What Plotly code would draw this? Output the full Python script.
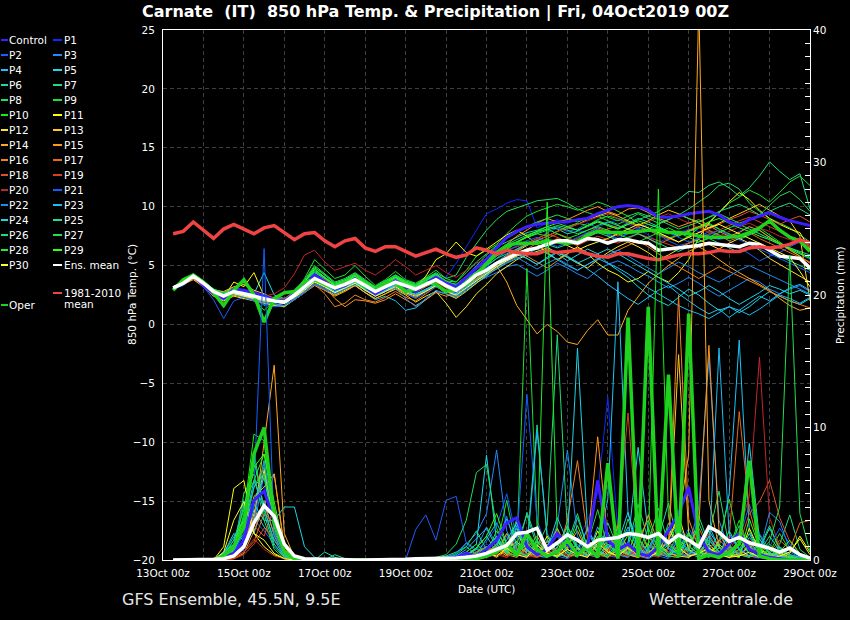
import pandas as pd
import plotly.graph_objects as go

# 6-hourly steps, 13Oct 06z .. 29Oct 00z
times = pd.date_range("2019-10-13 06:00", periods=64, freq="6h")

names = ["Control"] + ["P%d" % i for i in range(1, 31)]

# ---- 850 hPa temperature (deg C) per member ----
t_ctrl = [3.0,3.6,4.2,3.3, 2.6,2.2,3.0,2.9, 2.7,2.4,2.1,2.0, 2.6,3.4,4.2,3.6,
          3.0,3.3,3.9,3.2, 2.6,3.1,3.7,3.2, 2.8,3.5,4.0,3.5, 3.2,4.0,4.8,5.5,
          6.5,7.4,7.9,8.3, 8.5,8.6,8.7,8.7, 8.9,9.0,9.4,9.7, 10.0,10.1,10.0,9.7,
          9.1,9.1,9.2,9.4, 9.5,9.6,9.3,8.7, 8.4,8.9,9.2,9.5, 9.1,8.8,8.6,8.4]
t_p1 = [3.2,3.4,4.0,3.6, 2.9,2.6,2.5,2.3, 2.0,1.8,2.2,2.1, 2.3,3.0,3.7,3.3,
        2.9,3.1,3.6,3.0, 2.5,2.9,3.4,3.0, 2.9,3.6,4.3,4.0, 5.2,6.6,8.0,9.4,
        9.8,10.3,10.6,10.5, 8.2,8.6,8.9,8.4, 8.0,7.7,8.3,8.6, 8.9,8.5,8.1,7.6,
        7.0,7.3,7.8,8.1, 7.9,7.5,7.2,7.4, 7.9,8.3,7.7,7.2, 6.8,6.4,6.0,5.5]
t_p2 = [3.0,3.3,3.9,3.2, 2.1,0.5,2.0,2.3, 2.2,2.0,1.7,1.5, 2.2,2.9,3.6,3.3,
        2.8,3.0,3.5,3.0, 2.4,2.8,3.2,2.6, 2.2,2.9,3.6,3.4, 3.0,3.6,4.5,5.2,
        5.8,6.3,6.6,6.9, 7.2,7.8,8.2,7.9, 8.1,8.6,8.2,7.6, 7.2,7.8,8.3,8.0,
        7.6,7.1,6.7,6.9, 7.4,7.9,7.6,7.1, 6.5,6.0,5.4,5.8, 6.1,6.6,7.0,6.4]
t_p3 = [3.1,3.6,4.1,3.4, 2.6,2.1,2.6,2.4, 2.1,1.9,1.8,1.6, 2.2,2.9,3.8,3.3,
        2.8,3.2,3.7,3.1, 2.5,2.9,3.3,2.9, 2.5,3.0,3.4,2.9, 2.4,3.0,3.6,4.0,
        4.4,4.9,5.1,4.6, 4.1,4.6,5.2,4.8, 4.3,3.9,4.6,5.1, 5.4,5.0,4.5,4.1,
        3.6,3.1,3.5,4.0, 3.5,2.9,2.4,2.9, 3.4,3.9,3.6,3.0, 2.6,3.0,3.3,2.8]
t_p4 = [3.0,3.5,4.0,3.4, 2.5,2.0,2.5,2.4, 2.3,2.1,2.0,1.8, 2.4,3.0,3.7,3.2,
        2.7,3.0,3.4,2.7, 2.1,2.4,2.0,1.2, 1.4,2.1,2.8,2.6, 2.3,2.9,3.5,4.1,
        4.8,5.4,6.0,5.6, 5.1,5.7,6.2,5.8, 5.3,4.7,4.1,3.4, 2.8,2.2,1.7,2.3,
        2.9,3.3,2.6,2.0, 1.4,0.9,1.3,0.6, 1.2,1.8,2.4,2.0, 2.6,3.1,3.4,2.9]
t_p5 = [3.1,3.5,4.2,3.6, 2.9,2.5,2.7,2.4, 2.6,4.4,2.5,2.2, 2.6,3.3,3.9,3.4,
        2.9,3.3,3.7,3.1, 2.6,3.0,3.5,3.2, 2.8,3.3,3.7,3.1, 2.7,3.4,4.1,4.8,
        5.3,5.9,6.3,6.8, 7.1,6.6,6.0,5.4, 5.9,6.4,6.0,5.2, 4.6,4.0,3.2,2.5,
        2.0,1.6,2.3,3.0, 2.5,1.8,1.2,1.5, 1.0,1.5,2.2,2.8, 2.4,2.0,1.7,2.2]
t_p6 = [3.2,3.6,4.3,3.7, 3.0,2.7,3.1,2.9, 2.6,2.3,2.1,2.0, 2.7,3.5,4.4,3.9,
        3.3,3.6,4.0,3.4, 2.9,3.4,3.9,3.5, 3.1,3.6,4.0,3.5, 3.2,4.0,5.0,5.9,
        6.6,7.0,7.4,7.8, 8.0,8.3,8.1,7.7, 7.9,8.4,8.8,8.5, 8.2,8.6,9.0,8.7,
        8.3,7.9,7.6,7.9, 8.2,8.5,8.1,7.6, 7.2,7.6,8.0,7.4, 6.9,6.5,6.2,5.9]
t_p7 = [3.1,3.6,4.2,3.5, 2.7,2.3,2.9,2.8, 2.5,1.6,2.2,2.1, 2.8,3.6,4.5,4.0,
        3.4,3.7,4.2,3.6, 3.0,3.5,4.0,3.6, 3.3,3.8,4.3,3.7, 3.3,4.1,4.9,5.5,
        6.2,6.8,7.2,7.6, 7.9,8.1,8.4,8.2, 8.0,8.3,8.7,8.4, 8.1,8.5,8.9,9.2,
        9.6,10.1,10.6,11.3, 11.2,11.8,12.1,11.6, 10.9,11.6,12.6,13.8, 13.0,12.3,12.8,9.8]
t_p8 = [3.2,3.7,4.3,3.6, 2.8,2.6,3.0,2.7, 2.4,2.2,2.1,2.0, 2.9,3.8,5.0,4.3,
        3.6,3.9,4.4,3.8, 3.2,3.7,4.2,3.7, 3.4,3.9,4.4,3.9, 4.2,5.7,6.9,8.0,
        8.9,9.6,9.9,10.2, 10.5,10.6,10.7,10.3, 9.8,9.5,9.2,8.8, 8.5,8.9,9.4,9.0,
        8.6,8.9,9.3,9.8, 10.4,11.0,11.8,12.0, 11.5,10.3,9.6,9.0, 8.6,8.2,7.6,7.0]
t_p9 = [3.0,3.5,4.1,3.6, 2.9,2.5,2.8,2.5, 2.3,2.0,1.6,1.5, 2.6,3.9,5.5,4.7,
        3.9,4.2,5.0,4.1, 3.3,3.8,4.5,3.8, 3.5,4.0,4.6,3.9, 3.6,4.6,5.8,6.3,
        6.8,7.7,8.5,9.2, 9.6,9.9,10.2,10.0, 9.7,10.0,10.4,10.1, 9.6,9.2,8.6,8.2,
        7.8,7.4,7.0,7.5, 8.2,8.7,9.5,10.3, 10.8,11.4,11.0,10.4, 11.2,12.1,12.6,11.8]
t_p10 = [3.1,3.6,4.2,3.7, 3.0,2.4,2.7,2.5, 2.2,1.2,2.0,2.1, 2.7,3.6,4.9,4.2,
         3.5,3.8,4.3,3.7, 3.1,3.6,4.1,3.6, 3.2,3.7,4.2,3.5, 3.1,3.7,4.3,5.0,
         5.6,6.3,7.0,7.4, 7.7,7.5,7.9,8.3, 8.6,8.4,8.9,9.2, 9.0,8.7,8.3,8.0,
         7.7,7.3,7.6,8.0, 8.3,8.6,8.1,7.7, 7.3,7.7,8.2,7.6, 7.0,6.4,5.8,4.6]
t_p11 = [3.2,3.5,4.0,3.5, 2.7,2.3,3.6,3.2, 4.4,2.4,2.1,2.0, 2.6,3.3,4.0,3.6,
         3.1,3.5,4.0,3.4, 2.9,3.3,3.8,3.4, 3.1,4.1,5.5,6.0, 7.0,6.1,5.8,6.4,
         7.0,7.6,8.0,7.5, 6.8,6.1,5.5,6.0, 6.6,6.0,5.2,4.6, 4.2,3.6,3.9,4.5,
         4.0,3.6,4.4,5.5, 7.4,8.6,9.5,10.4, 11.2,10.6,9.7,9.0, 8.5,8.1,7.8,6.4]
t_p12 = [3.0,3.4,3.9,3.3, 2.4,2.0,2.4,2.2, 2.0,1.8,1.6,1.5, 2.1,2.7,3.4,3.0,
         2.5,2.9,3.3,2.7, 2.2,2.6,3.0,2.5, 1.9,2.4,2.8,1.8, 0.6,1.5,2.6,3.4,
         4.3,4.9,5.5,5.9, 6.2,6.5,6.1,5.7, 5.2,4.8,5.5,6.1, 6.6,7.0,6.6,6.1,
         5.5,5.9,6.4,6.9, 7.2,6.8,6.4,6.9, 7.3,6.9,6.3,5.6, 5.1,4.6,4.1,3.6]
t_p13 = [3.1,3.5,4.0,3.5, 2.9,2.8,3.2,3.4, 2.9,2.6,2.2,2.0, 2.4,3.0,3.6,3.2,
         2.7,3.0,3.5,2.9, 2.4,2.8,3.3,2.8, 2.5,2.9,3.3,2.6, 2.2,2.8,3.5,4.2,
         4.9,5.6,6.2,6.7, 7.1,7.5,7.9,8.2, 8.5,8.9,9.2,9.5, 9.2,8.8,8.4,8.8,
         9.3,9.7,9.4,9.0, 8.6,8.2,8.6,9.0, 9.4,9.8,10.2,9.7, 9.2,8.8,7.5,2.0]
t_p14 = [3.0,3.4,3.8,3.2, 2.4,2.1,2.5,2.3, 2.1,1.9,1.7,1.6, 2.1,2.7,3.3,2.9,
         2.4,2.8,3.3,2.7, 2.2,2.6,3.1,2.6, 2.3,2.8,3.3,2.9, 2.7,3.3,3.9,4.4,
         5.0,3.6,1.6,0.4, -0.8,0.0,-0.6,-1.5, -1.7,-0.5,0.4,-0.9, -0.9,1.2,2.3,3.5,
         4.3,5.0,5.6,6.2, 6.6,6.1,5.5,4.9, 4.4,3.9,3.4,2.9, 2.2,1.6,1.2,1.4]
t_p15 = [3.2,3.6,4.1,3.4, 2.5,2.2,2.7,2.6, 2.4,2.2,2.0,1.9, 2.5,3.1,3.8,3.2,
         2.2,1.5,2.1,2.0, 1.8,2.1,2.6,2.1, 1.6,2.1,2.7,2.4, 2.6,3.4,4.4,5.3,
         6.1,6.8,7.5,8.0, 8.6,9.0,8.7,8.9, 9.3,9.7,10.0,9.6, 9.3,9.8,9.9,9.5,
         9.0,8.7,8.3,8.6, 8.9,8.4,7.9,7.5, 7.8,8.3,8.0,7.4, 6.9,6.3,5.8,5.2]
t_p16 = [3.0,3.4,3.9,3.3, 2.6,2.3,2.6,2.4, 2.2,2.0,1.9,1.8, 2.3,2.8,3.4,2.6,
         1.5,1.8,2.5,2.1, 1.9,2.3,2.8,2.3, 2.0,2.6,3.2,2.8, 2.4,3.1,3.9,4.6,
         5.2,5.8,6.2,5.8, 5.3,4.8,5.4,6.0, 6.5,6.1,5.6,5.9, 6.3,6.7,7.1,6.6,
         6.0,5.4,4.9,4.4, 3.9,4.4,4.9,4.5, 4.1,3.7,3.3,2.8, 2.4,2.0,1.7,1.4]
t_p17 = [3.1,3.5,4.0,3.4, 2.7,2.4,2.9,2.7, 2.5,2.3,2.1,2.0, 2.6,3.3,4.0,3.6,
         3.1,3.5,3.9,3.3, 2.8,3.2,3.6,3.1, 2.7,3.2,3.6,3.1, 2.8,3.3,3.8,4.3,
         4.7,5.3,5.9,6.4, 6.9,7.3,7.7,7.4, 7.0,7.4,7.8,8.1, 8.4,8.1,7.7,7.3,
         6.8,7.2,7.6,8.0, 8.3,8.0,7.6,7.1, 7.4,7.8,7.3,6.9, 6.5,6.1,5.7,5.3]
t_p18 = [3.2,3.6,4.1,3.6, 2.9,2.6,3.0,2.8, 2.6,2.4,2.3,2.2, 2.8,3.5,4.2,3.8,
         3.3,3.7,4.1,3.5, 3.0,3.4,3.8,3.4, 3.1,3.5,3.9,3.4, 3.0,3.6,4.2,4.7,
         5.2,5.8,6.4,6.9, 7.3,7.7,7.4,7.0, 7.3,7.8,8.2,7.9, 7.5,7.9,8.3,8.0,
         7.6,7.3,7.0,7.4, 7.8,8.1,8.5,8.9, 9.2,9.6,9.3,8.9, 8.5,8.9,9.2,8.7]
t_p19 = [3.0,3.5,4.1,3.5, 2.8,2.5,2.9,2.7, 2.5,2.3,2.1,2.0, 2.6,3.3,4.0,3.5,
         3.0,3.4,3.8,3.3, 2.9,3.3,3.7,3.2, 2.9,3.3,3.7,3.2, 2.9,3.5,4.1,4.6,
         5.1,5.5,5.9,6.3, 6.6,6.9,7.3,7.0, 6.7,7.1,7.5,7.2, 6.9,7.3,7.7,7.4,
         7.1,6.8,6.5,6.9, 7.3,7.7,8.0,8.4, 8.8,9.1,8.7,8.3, 7.9,7.5,7.1,6.7]
t_p20 = [3.1,3.5,4.0,3.4, 2.7,2.4,2.8,2.6, 2.5,2.4,2.6,3.1, 4.3,5.9,6.3,5.3,
         4.6,4.9,5.2,4.6, 4.2,4.8,5.5,4.9, 4.2,4.6,5.0,4.4, 4.0,4.6,5.2,5.6,
         5.9,6.3,6.6,6.9, 7.2,7.5,7.9,8.2, 8.5,8.8,9.1,9.4, 9.0,8.6,8.3,8.7,
         9.1,9.4,9.0,8.6, 8.2,7.8,7.5,7.9, 8.3,8.6,8.2,7.9, 7.5,7.2,6.9,6.6]
t_p21 = [3.1,3.6,4.1,3.5, 2.8,2.4,2.6,2.3, 2.0,1.7,1.5,1.6, 2.1,2.7,3.4,3.0,
         2.6,3.0,3.5,3.0, 2.5,2.9,3.3,2.7, 2.2,2.7,3.2,2.8, 2.7,3.4,4.2,4.9,
         5.6,6.2,6.7,7.1, 7.4,7.0,6.6,7.0, 7.4,7.8,8.1,7.7, 7.3,7.7,8.1,8.5,
         8.2,7.8,7.4,7.0, 7.3,7.6,8.0,7.6, 7.2,6.8,6.4,6.0, 5.6,5.2,4.8,4.4]
t_p22 = [3.0,3.4,4.0,3.4, 2.6,2.2,2.6,2.3, 2.1,1.9,1.7,1.6, 2.2,2.8,3.5,3.1,
         2.6,3.0,3.5,2.9, 2.4,2.8,3.1,2.2, 1.5,2.2,2.9,2.6, 2.4,3.0,3.7,4.3,
         4.9,5.3,5.7,5.2, 4.7,5.2,5.6,5.1, 4.6,5.1,5.5,5.9, 6.3,5.8,5.3,4.8,
         4.3,4.8,5.3,4.9, 4.4,4.0,3.6,4.1, 4.6,5.0,4.6,4.2, 3.8,3.4,3.0,2.6]
t_p23 = [3.1,3.5,4.1,3.5, 2.7,2.3,2.7,2.5, 2.3,2.1,1.9,1.8, 2.4,3.1,3.8,3.4,
         2.9,3.2,3.6,3.0, 2.5,2.9,3.4,2.9, 2.5,2.9,3.3,2.8, 2.5,3.1,3.7,4.2,
         4.7,5.2,5.6,6.0, 6.4,6.0,5.5,5.0, 4.6,5.1,5.6,5.2, 4.8,4.3,3.7,3.1,
         2.6,2.1,1.6,1.2, 0.9,0.5,1.0,1.5, 1.2,0.8,1.3,1.9, 2.5,2.2,1.8,2.3]
t_p24 = [3.2,3.6,4.2,3.6, 2.9,2.5,2.8,2.5, 2.3,2.1,1.9,1.8, 2.3,3.0,3.7,3.3,
         2.8,3.1,3.6,3.0, 2.5,2.9,3.3,2.8, 2.6,3.0,3.4,2.9, 2.6,3.2,3.8,4.4,
         4.9,5.5,6.0,5.6, 5.1,5.6,6.1,5.7, 5.2,5.6,6.0,6.4, 6.0,5.5,5.0,4.5,
         4.0,3.5,3.0,2.4, 2.8,3.3,2.8,2.2, 1.7,2.2,2.7,3.3, 3.0,2.6,2.9,2.5]
t_p25 = [3.1,3.6,4.2,3.6, 2.8,2.5,2.9,2.7, 2.5,2.3,2.2,2.1, 2.7,3.4,4.2,3.7,
         3.2,3.5,3.9,3.4, 3.0,3.4,3.8,3.4, 3.2,3.6,4.0,3.5, 3.3,3.9,4.5,5.0,
         5.6,6.0,6.4,6.8, 7.1,6.8,6.5,6.8, 7.2,7.5,7.8,7.5, 7.1,7.4,7.7,7.3,
         6.9,6.5,6.2,6.6, 7.0,7.3,6.9,6.5, 6.1,6.4,6.8,6.3, 5.8,5.4,5.0,4.6]
t_p26 = [3.0,3.5,4.1,3.5, 2.8,2.4,2.8,2.6, 2.4,2.1,1.9,1.9, 2.6,3.4,4.4,3.9,
         3.3,3.6,4.1,3.5, 3.1,3.5,4.0,3.5, 3.3,3.8,4.2,3.6, 3.4,4.1,4.8,5.4,
         6.0,6.6,7.0,7.4, 7.7,8.0,8.3,8.0, 7.7,8.0,8.4,8.7, 8.4,8.1,7.8,8.1,
         8.5,8.9,9.3,9.0, 8.7,9.1,9.6,9.9, 10.2,9.8,9.3,9.6, 10.0,10.3,9.8,9.3]
t_p27 = [3.2,3.7,4.3,3.7, 3.0,2.7,3.0,2.7, 2.5,2.2,2.0,2.0, 2.8,3.7,4.8,4.2,
         3.5,3.8,4.3,3.7, 3.2,3.7,4.2,3.7, 3.4,3.9,4.3,3.7, 3.6,4.4,5.3,6.0,
         6.7,7.3,7.8,8.3, 8.7,9.0,9.3,9.0, 8.7,9.0,9.4,9.1, 8.8,9.2,9.5,9.2,
         8.9,8.5,8.1,8.4, 8.7,9.1,9.4,9.0, 8.6,8.9,9.3,10.1, 10.9,11.3,10.6,9.6]
t_p28 = [3.1,3.6,4.2,3.6, 2.9,2.6,3.0,2.8, 2.6,2.3,2.2,2.1, 2.8,3.6,4.6,4.0,
         3.4,3.7,4.2,3.6, 3.1,3.6,4.1,3.6, 3.3,3.7,4.2,3.6, 3.4,4.0,4.7,5.3,
         5.9,6.5,7.0,7.4, 7.8,8.1,7.7,7.3, 7.6,8.0,8.3,8.0, 7.7,7.3,7.0,7.4,
         7.8,8.2,7.8,7.4, 7.0,7.4,7.8,8.2, 8.5,8.1,7.7,7.3, 6.9,6.5,6.1,5.7]
t_p29 = [3.0,3.5,4.1,3.6, 2.9,2.5,2.9,2.7, 2.5,2.2,2.0,1.9, 2.7,3.6,4.7,4.0,
         3.3,3.6,4.1,3.5, 3.0,3.5,4.0,3.5, 3.2,3.6,4.1,3.5, 3.2,3.8,4.4,5.1,
         5.8,6.4,7.0,7.5, 7.9,8.3,8.6,8.3, 8.0,8.4,8.7,8.4, 8.1,8.5,8.8,8.5,
         8.2,7.9,7.5,7.9, 8.3,8.7,9.0,8.6, 8.2,7.9,7.5,7.2, 6.8,6.4,6.0,5.6]
t_p30 = [3.1,3.5,4.0,3.4, 2.6,2.2,2.6,2.4, 2.2,2.0,1.9,1.8, 2.3,2.9,3.6,3.2,
         2.7,3.1,3.5,2.9, 2.4,2.8,3.2,2.7, 2.4,2.8,3.3,2.8, 2.5,3.1,3.7,4.3,
         4.9,5.4,5.8,6.2, 6.5,6.8,7.1,6.7, 6.3,6.7,7.0,7.3, 7.7,8.1,8.5,8.2,
         7.8,7.4,7.0,7.4, 7.8,8.2,8.5,8.1, 7.7,7.3,6.9,6.5, 6.1,5.7,4.5,3.2]

t_mean = [3.1,3.5,4.1,3.5, 2.8,2.4,2.8,2.6, 2.4,2.2,2.0,1.9, 2.5,3.2,3.9,3.5,
          3.1,3.4,3.8,3.3, 2.8,3.2,3.6,3.3, 3.0,3.4,3.8,3.3, 2.9,3.5,4.2,4.6,
          5.2,5.6,6.0,6.3, 6.5,6.8,7.1,7.1, 6.9,7.3,7.2,6.9, 7.2,7.2,7.0,6.9,
          6.3,6.4,6.5,6.6, 6.7,6.9,6.8,6.7, 6.6,6.9,6.8,6.3, 5.8,5.7,5.6,4.8]
t_oper = [2.9,3.8,4.2,3.6, 2.7,1.6,2.9,3.8, 2.5,0.2,2.2,2.7, 2.8,3.6,3.8,3.4,
          3.1,3.5,3.8,3.2, 2.9,3.6,3.5,2.8, 3.0,3.6,3.4,2.8, 3.0,3.4,4.2,5.2,
          6.1,6.7,6.9,6.9, 6.9,7.1,7.0,6.9, 7.0,7.6,7.9,7.8, 7.8,7.8,7.9,8.0,
          8.0,7.8,7.8,7.7, 7.5,7.4,7.4,7.4, 7.5,7.8,8.2,8.8, 8.0,7.4,7.1,6.2]
t_clim = [7.7,7.9,8.7,8.0, 7.3,8.1,8.5,8.1, 7.7,8.2,8.4,7.8, 7.2,7.7,7.8,7.1,
          6.6,7.1,7.3,6.5, 6.2,6.6,6.6,6.2, 5.8,6.1,6.4,6.0, 5.7,5.9,6.5,6.3,
          6.0,6.3,6.1,6.0, 6.0,6.3,6.1,6.2, 6.3,6.0,5.8,5.7, 6.0,6.0,5.8,5.6,
          5.5,5.7,5.9,6.0, 6.0,6.1,6.3,6.2, 6.2,6.5,6.6,6.5, 6.6,6.8,7.2,6.9]

# ---- 6-hourly precipitation (mm) per member ----
r_ctrl = [0,0,0,0, 0,0.2,0.5,1.5, 4.5,5.2,3.0,0.6, 0.1,0,0,0,
          0,0,0,0, 0,0,0,0, 0,0,0,0.1, 0.2,0.5,0.3,0.8,
          1.5,2.8,3.2,1.0, 0.4,0.8,2.0,1.2, 0.5,1.0,6.0,1.5, 0.8,1.2,0.5,0.3,
          1.0,2.2,3.5,5.5, 1.8,0.6,0.4,1.2, 2.0,0.8,0.4,0.2, 0.1,0,0,0]
r_p1 = [0,0,0,0, 0,0,0.3,2.5, 6.0,5.5,4.0,1.0, 0.2,0,0,0,
        0,0,0,0, 0,0,0,0, 0,0,0,0, 0,0.2,0.6,1.2,
        0.8,2.0,0.5,0.3, 1.0,0.4,0.2,0.8, 1.5,3.0,5.0,12.3, 2.0,0.5,0.2,1.0,
        0.6,0.3,1.5,0.8, 0.4,0.2,0.6,1.8, 0.9,0.3,0.1,0.4, 0.2,0,0,0]
r_p2 = [0,0,0,0, 0,0.4,1.0,1.8, 3.0,2.2,1.2,0.3, 0,0,0,0,
        0,0,0,0, 0,0,0,0, 2.3,3.4,1.5,4.5, 4.8,1.3,0.6,1.0,
        0.4,1.8,0.6,0.2, 0.5,1.2,0.3,0.1, 0.6,2.5,0.8,0.3, 0.2,1.4,3.2,0.6,
        0.3,0.1,0.8,2.4, 1.1,0.4,0.2,0.6, 1.5,4.2,2.0,0.8, 0.3,0.6,0.2,0.1]
r_p3 = [0,0,0,0, 0,0,0.2,0.8, 2.5,6.5,3.2,0.5, 0,0,0,0,
        0,0,0,0, 0,0,0,0, 0,0,0.1,0.2, 0.5,1.2,2.0,3.5,
        8.3,2.2,0.6,1.4, 0.3,0.8,0.2,0.6, 1.2,0.4,0.2,0.9, 2.4,0.7,0.3,0.1,
        0.5,1.3,2.8,0.9, 4.0,15.3,3.0,0.8, 0.4,0.9,1.6,0.5, 0.2,0.1,0,0]
r_p4 = [0,0,0,0, 0,0.3,1.5,3.2, 2.0,4.5,1.8,0.4, 0,0,0,0,
        0,0,0,0, 0,0,0,0, 0,0,0,0, 0,0.1,0.4,0.9,
        1.6,0.5,2.6,0.8, 0.3,1.5,0.6,0.2, 0.8,2.3,0.9,4.6, 21.0,3.5,0.8,0.4,
        1.2,0.6,0.3,1.9, 0.7,2.6,0.9,5.0, 16.6,2.2,0.6,0.3, 1.0,0.4,0.2,0.1]
r_p5 = [0,0,0,0, 0,0,0.2,1.2, 3.8,2.5,1.5,0.8, 0.2,0,0,0,
        0,0,0,0, 0,0,0,0, 0,0,0,0.1, 0.3,0.6,1.2,7.9,
        1.4,0.6,2.1,0.9, 0.3,0.2,1.0,2.6, 0.9,0.4,1.8,0.6, 0.3,1.2,8.5,2.0,
        0.6,1.4,0.5,0.2, 0.8,2.2,1.0,0.3, 0.5,1.7,0.8,2.4, 0.9,0.3,0.1,0]
r_p6 = [0,0,0,0, 0,0.5,1.8,3.0, 8.2,3.5,1.0,0.2, 0,0,0,0.6,
        0.2,0,0,0, 0,0,0,0, 0,0,0.1,0.3, 0.6,1.0,0.4,1.6,
        2.8,1.2,0.5,3.6, 1.4,0.6,0.2,0.8, 3.2,1.0,0.4,0.2, 0.9,2.5,0.8,0.3,
        1.6,4.3,1.2,0.5, 0.2,0.7,2.0,0.6, 0.3,1.1,0.4,0.2, 0.5,0.2,0,0]
r_p7 = [0,0,0,0, 0,0.6,1.2,2.4, 4.0,7.5,2.2,0.3, 0,0,0,0,
        0,0,0,0, 0,0,0,0, 0,0,0,0, 0.1,0.4,0.9,0.5,
        1.8,0.7,2.9,1.1, 10.2,1.6,0.4,1.2, 3.5,0.8,0.3,2.1, 0.6,1.0,4.2,1.5,
        0.4,2.8,1.0,0.6, 3.3,1.2,0.4,0.9, 2.6,0.8,1.9,0.5, 1.2,3.4,0.8,0.2]
r_p8 = [0,0,0,0, 0,0.2,0.8,5.0, 6.5,3.0,0.8,0.1, 0,0,0,0,
        0,0,0,0, 0,0,0,0, 0,0,0.2,0.4, 1.2,3.0,6.6,7.2,
        2.4,0.8,3.1,0.5, 0.3,1.4,0.6,2.2, 0.8,0.4,1.5,0.6, 2.0,0.5,0.2,1.3,
        3.9,1.1,0.4,0.8, 0.3,1.8,5.2,1.0, 0.4,0.2,0.9,2.6, 0.8,0.3,0.1,0]
r_p9 = [0,0,0,0, 0,0.3,1.0,2.0, 5.5,7.0,3.5,0.5, 0,0,0,0,
        0,0,0.1,0, 0,0,0,0, 0,0,0,0, 0,0.2,0.5,0.3,
        1.0,4.5,0.8,22.0, 2.5,0.6,0.3,1.7, 0.5,1.2,3.8,0.9, 0.4,0.2,1.6,3.0,
        0.8,0.4,2.3,1.0, 0.5,0.2,1.4,4.6, 1.3,0.5,0.2,0.6, 2.0,0.7,0.3,0.1]
r_p10 = [0,0,0,0, 0,0.2,0.6,3.5, 9.5,9.0,2.0,0.3, 0,0,0,0,
         0,0,0,0, 0,0,0,0, 0,0,0,0, 0,0.1,0.4,1.0,
         0.6,2.0,0.5,1.2, 0.4,0.9,2.4,0.6, 0.2,1.5,0.7,0.3, 1.1,0.4,2.8,0.9,
         28.0,3.2,0.8,0.4, 1.6,0.5,0.2,0.9, 3.0,0.8,0.4,1.2, 0.5,0.2,0.1,0]
r_p11 = [0,0,0,0, 0,1.0,5.4,6.0, 2.0,1.0,0.4,0.1, 0,0,0,0,
         0,0,0,0, 0,0,0,0, 0,0,0,0, 0,0.2,0.4,0.8,
         1.5,0.6,0.3,1.0, 0.4,1.8,0.6,0.2, 0.9,0.3,2.2,0.7, 0.3,1.0,0.5,0.2,
         0.6,1.5,3.4,0.8, 0.3,0.6,1.2,0.4, 0.2,2.4,0.7,0.3, 0.1,0.5,1.8,0.6]
r_p12 = [0,0,0,0, 0,0,0.4,0.9, 3.5,6.8,2.5,0.4, 0,0,0,0,
         0,0,0,0, 0,0,0,0, 0,0,0,0, 0,0,0.3,0.6,
         0.2,0.8,1.4,0.5, 0.2,0.6,1.2,0.4, 0.3,1.5,0.6,0.2, 0.8,0.4,0.2,0.6,
         1.0,0.5,0.3,0.2, 0.6,1.2,0.4,0.2, 0.5,0.3,0.8,0.4, 0.2,0.1,0,0]
r_p13 = [0,0,0,0, 0,0,0.2,1.6, 4.8,5.5,6.5,1.0, 0,0,0,0,
         0,0,0,0, 0,0,0,0, 0,0,0,0, 0,0.1,0.3,0.5,
         1.2,0.4,2.0,0.7, 0.3,0.8,0.2,1.6, 0.5,0.2,1.1,0.4, 2.6,0.8,0.3,1.2,
         0.5,0.9,15.5,2.0, 0.6,0.3,1.5,0.8, 0.4,1.0,0.3,0.2, 0.6,0.2,0.1,0]
r_p14 = [0,0,0,0, 0,0,0.3,1.0, 3.0,8.8,14.7,2.0, 0.2,0,0,0,
         0,0,0,0, 0,0,0,0, 0,0,0,0, 0,0,0.2,0.4,
         0.8,0.3,1.2,0.5, 0.2,0.6,0.3,1.0, 2.2,0.6,0.3,0.8, 1.5,0.4,0.2,0.7,
         0.5,1.6,3.0,8.0, 42.0,4.5,1.0,0.4, 0.8,0.3,0.2,0.5, 0.3,0.1,0,0]
r_p15 = [0,0,0,0, 0,0,0.1,0.5, 2.2,4.0,6.5,0.8, 0,0,0,0,
         0,0,0,0, 0,0,0,0, 0,0,0,0, 0,0.1,0.2,0.6,
         1.0,0.4,0.2,0.9, 1.8,0.5,2.4,0.8, 0.4,1.2,9.3,1.5, 0.6,0.2,0.9,3.4,
         1.2,0.5,0.3,1.0, 2.6,16.2,2.2,0.6, 0.3,1.2,0.5,0.2, 0.4,0.2,0,0]
r_p16 = [0,0,0,0, 0,0,0.2,1.5, 3.2,4.2,2.0,0.5, 0,0,0,0,
         0,0,0,0, 0,0,0,0, 0,0,0,0, 0,0.2,0.6,1.0,
         0.4,2.0,0.8,0.3, 0.6,1.4,0.4,3.0, 7.5,1.6,0.5,0.2, 0.8,0.3,1.6,0.5,
         0.3,0.8,20.0,3.1, 0.9,0.4,0.2,1.0, 0.5,0.3,0.2,0.1, 0.2,0,0,0]
r_p17 = [0,0,0,0, 0,0,0.2,0.6, 1.4,3.5,2.8,0.3, 0,0,0,0,
         0,0,0,0, 0,0,0,0, 0,0,0,0, 0,0.1,0.3,0.2,
         0.5,1.1,0.4,0.2, 1.2,0.5,0.3,0.8, 0.3,0.6,1.4,0.5, 0.2,0.7,0.4,1.8,
         0.6,0.3,0.2,0.9, 2.4,0.8,0.5,1.6, 11.2,3.8,1.0,0.6, 1.5,0.8,2.8,3.0]
r_p18 = [0,0,0,0, 0,0,0.3,1.0, 2.6,1.8,4.0,0.5, 0,0,0,0,
         0,0,0,0, 0,0,0,0, 0,0,0,0, 0,0,0.2,0.5,
         0.3,0.9,0.4,1.5, 0.6,0.2,0.8,0.3, 1.0,0.4,0.2,0.6, 1.8,0.5,0.3,0.2,
         0.9,1.4,0.6,0.3, 0.8,2.0,0.6,0.4, 1.2,3.5,4.4,6.0, 3.2,1.4,0.5,0.2]
r_p19 = [0,0,0,0, 0,0,0.1,0.4, 1.2,2.4,1.6,0.2, 0,0,0,0,
         0,0,0,0, 0,0,0,0, 0,0,0,0, 0,0,0.1,0.3,
         0.6,0.2,0.9,0.4, 0.3,1.1,0.5,0.2, 0.4,0.8,1.6,0.5, 2.8,11.1,1.2,0.4,
         0.3,0.6,0.9,0.4, 1.0,0.5,0.2,0.8, 0.6,1.5,0.4,0.2, 0.3,0.1,0,0]
r_p20 = [0,0,0,0, 0,0,0.2,0.6, 1.6,0.8,0.3,0.1, 0,0,0,0,
         0,0,0,0, 0,0,0,0, 0,0,0,0, 0,0,0,0.2,
         0.4,0.2,0.6,0.3, 0.2,0.5,0.9,0.3, 0.6,1.2,0.4,0.2, 0.5,0.3,0.8,0.4,
         0.2,0.6,1.1,0.5, 0.3,0.8,1.6,0.6, 2.2,4.8,15.3,3.2, 1.0,0.4,0.2,0.1]
r_p21 = [0,0,0,0, 0,0,0.5,2.0, 5.5,23.5,2.0,0.4, 0,0,0,0,
         0,0,0,0, 0,0,0,0, 0,0,0,0, 0,0.3,0.8,1.4,
         2.5,5.0,1.6,12.5, 3.0,0.8,1.8,0.5, 0.4,0.9,0.3,1.2, 0.6,2.3,0.8,0.3,
         1.0,0.4,1.9,0.6, 0.3,0.8,0.4,2.2, 0.9,0.4,0.2,1.0, 2.4,1.2,0.4,0.1]
r_p22 = [0,0,0,0, 0,0.3,1.2,4.5, 2.8,7.5,3.0,0.5, 0,0,0,0,
         0,0,0,0, 0,0,0,0, 0,0,0,0.2, 0.5,1.3,0.8,2.5,
         1.2,3.3,0.6,0.4, 1.5,0.7,2.6,8.3, 1.8,0.6,0.3,1.1, 0.4,0.2,1.3,0.6,
         2.2,0.8,0.4,0.3, 1.3,1.6,0.5,0.9, 0.4,2.0,0.6,3.6, 2.9,0.8,0.3,0.1]
r_p23 = [0,0,0,0, 0,0.2,0.6,2.4, 6.0,3.8,1.5,0.3, 0,0,0,0,
         0,0,0,0, 0,0,0,0, 0,0,0,0.1, 0.3,0.8,1.6,2.4,
         0.9,3.1,1.2,0.6, 9.7,2.0,0.5,1.3, 0.6,0.3,2.5,0.9, 1.6,0.5,0.3,0.8,
         2.4,0.9,0.4,1.5, 0.6,0.3,16.0,2.0, 0.7,1.4,0.5,0.3, 1.0,0.4,0.2,0.1]
r_p24 = [0,0,0,0, 0,0.5,2.0,1.5, 4.2,3.0,3.0,4.0, 4.0,1.0,0.2,0,
         0,0,0,0, 0,0,0,0, 0,0,0,0, 0.1,0.4,0.9,1.8,
         0.6,1.5,2.8,1.0, 0.4,0.8,3.2,1.4, 16.0,2.2,0.6,0.4, 1.3,3.6,0.9,0.3,
         0.5,0.2,1.2,0.7, 0.4,1.8,0.6,0.3, 1.1,8.8,1.6,0.5, 0.3,0.2,0.1,0]
r_p25 = [0,0,0,0, 0,0.2,0.8,2.8, 4.5,6.2,2.5,0.4, 0,0,0,0,
         0.4,0.1,0,0, 0,0,0,0, 0,0,0,0, 0.2,0.5,0.3,0.9,
         1.8,0.6,2.4,0.8, 0.3,1.2,0.5,0.2, 1.4,0.6,0.3,2.8, 0.9,0.4,1.7,0.6,
         0.3,2.5,0.8,0.4, 1.2,0.5,0.3,2.2, 0.8,0.3,1.3,0.5, 0.2,0.1,0,0]
r_p26 = [0,0,0,0, 0,0.4,1.5,3.8, 7.5,4.0,1.2,0.2, 0,0,0,0,
         0,0,0,0, 0,0,0,0, 0,0,0,0.1, 0.4,1.0,2.2,0.8,
         1.6,0.5,1.2,3.4, 1.0,2.6,17.0,2.2, 0.8,0.3,0.6,1.9, 0.5,3.1,1.0,0.4,
         0.9,0.3,1.6,0.7, 2.8,0.9,0.3,1.1, 0.4,0.2,0.6,1.8, 0.7,0.3,0.1,0]
r_p27 = [0,0,0,0, 0,0.3,0.9,2.5, 5.5,6.5,2.6,0.4, 0,0,0,0,
         0,0,0,0, 0,0,0,0, 0,0,0,0, 0.1,0.3,0.8,0.4,
         1.2,0.5,0.3,1.6, 0.6,0.2,0.9,2.5, 1.0,0.4,1.8,0.6, 0.3,1.2,0.5,2.4,
         0.8,0.3,0.2,1.1, 0.4,1.5,0.6,0.3, 0.8,2.0,0.5,1.4, 4.0,23.0,3.5,0.6]
r_p28 = [0,0,0,0, 0,0.2,0.7,4.2, 6.0,8.0,3.8,0.6, 0,0,0,0,
         0,0,0,0, 0,0,0,0, 0,0,0,0, 0.2,0.6,1.2,0.5,
         2.2,0.8,0.4,1.3, 0.5,27.0,2.0,0.6, 0.3,1.6,0.5,0.2, 1.1,0.4,2.6,0.8,
         0.3,1.2,0.5,2.0, 0.6,0.2,0.9,0.4, 1.6,0.5,0.3,0.8, 0.4,0.2,0.1,0]
r_p29 = [0,0,0,0, 0,0.3,1.2,3.0, 7.0,8.0,4.5,0.8, 0,0,0,0,
         0,0,0,0, 0,0,0,0, 0,0,0,0, 0,0.3,0.9,1.8,
         3.5,1.2,0.6,0.3, 1.4,0.5,0.2,0.9, 2.6,0.7,0.3,1.2, 0.5,1.9,0.6,0.2,
         1.3,0.4,0.8,2.1, 0.7,0.3,1.2,0.5, 0.2,3.1,0.9,0.4, 0.6,1.5,0.5,0.2]
r_p30 = [0,0,0,0, 0,0.6,3.0,4.4, 2.0,1.5,0.5,0.1, 0,0,0,0,
         0,0,0,0, 0,0,0,0, 0,0,0,0, 0,0.1,0.2,0.5,
         0.3,0.9,0.4,0.2, 1.1,0.5,0.3,0.8, 0.4,0.2,1.3,0.6, 0.3,0.9,0.4,0.2,
         0.6,2.4,1.0,0.3, 0.5,0.9,0.4,0.2, 0.3,0.6,0.2,0.1, 0.3,0.6,1.6,0.4]

r_mean = [0,0,0,0, 0.05,0.1,0.3,1.0, 2.8,4.1,3.3,1.2, 0.3,0.1,0.05,0.05,
          0.05,0,0,0, 0,0,0,0.05, 0.1,0.1,0.1,0.15, 0.15,0.2,0.3,0.5,
          0.8,1.1,2.0,2.1, 2.4,0.75,1.3,1.9, 1.5,1.0,1.5,1.6, 1.7,2.0,1.9,1.7,
          2.0,1.3,1.9,1.5, 1.0,2.5,2.1,1.4, 1.7,1.3,1.1,0.9, 0.6,0.9,0.4,0.15]
r_oper = [0,0,0,0, 0,0.3,1.0,2.5, 8.0,10.0,3.0,0.6, 0.1,0,0,0,
          0,0,0,0, 0,0,0,0, 0,0,0,0, 0,0,0.1,0.3,
          0.6,1.2,0.4,2.0, 0.8,0.3,0.6,1.5, 0.4,1.0,0.2,7.3, 0.1,18.3,0.2,19.1,
          0.3,14.0,0.2,18.6, 0.1,0.4,0.2,0.6, 1.2,7.5,0.3,0.1, 0,0,0,0]

t_members = [t_ctrl, t_p1, t_p2, t_p3, t_p4, t_p5, t_p6, t_p7, t_p8, t_p9, t_p10,
             t_p11, t_p12, t_p13, t_p14, t_p15, t_p16, t_p17, t_p18, t_p19, t_p20,
             t_p21, t_p22, t_p23, t_p24, t_p25, t_p26, t_p27, t_p28, t_p29, t_p30]
r_members = [r_ctrl, r_p1, r_p2, r_p3, r_p4, r_p5, r_p6, r_p7, r_p8, r_p9, r_p10,
             r_p11, r_p12, r_p13, r_p14, r_p15, r_p16, r_p17, r_p18, r_p19, r_p20,
             r_p21, r_p22, r_p23, r_p24, r_p25, r_p26, r_p27, r_p28, r_p29, r_p30]
for s in t_members + r_members + [t_mean, t_oper, t_clim, r_mean, r_oper]:
    assert len(s) == 64, len(s)

colors = ["#3c1eff", "#0a2aff", "#1e5cff", "#1e8cff", "#1ec4f8", "#1ed8e8", "#1ed8a8",
          "#1edc80", "#1ee05a", "#1ee030", "#10f010", "#ffff00", "#ffe41e", "#ffc81e",
          "#ffaa1e", "#ff961e", "#f58220", "#e86a14", "#e05028", "#d84020", "#c02828",
          "#1060ff", "#1e8cf0", "#1ebcf5", "#1ed4e6", "#1edca0", "#1edc78", "#1ee050",
          "#1ef028", "#32ff14", "#ffff28"]
oper_color = "#1ed21e"
clim_color = "#f04444"

fig = go.Figure()

# temperatures: perturbed members first, control on top of them
for k in list(range(1, 31)) + [0]:
    fig.add_trace(go.Scatter(x=times, y=t_members[k], mode="lines", name=names[k],
                             line=dict(color=colors[k], width=3 if k == 0 else 1)))
fig.add_trace(go.Scatter(x=times, y=t_oper, mode="lines", name="Oper",
                         line=dict(color=oper_color, width=3.5)))
fig.add_trace(go.Scatter(x=times, y=t_mean, mode="lines", name="Ens. mean",
                         line=dict(color="white", width=3.5)))
fig.add_trace(go.Scatter(x=times, y=t_clim, mode="lines", name="1981-2010 mean",
                         line=dict(color=clim_color, width=3.5)))

# precipitation on the right axis
for k in list(range(1, 31)) + [0]:
    fig.add_trace(go.Scatter(x=times, y=r_members[k], mode="lines", yaxis="y2",
                             line=dict(color=colors[k], width=3 if k == 0 else 1)))
fig.add_trace(go.Scatter(x=times, y=r_oper, mode="lines", yaxis="y2",
                         line=dict(color=oper_color, width=3.5)))
fig.add_trace(go.Scatter(x=times, y=r_mean, mode="lines", yaxis="y2",
                         line=dict(color="white", width=3.5)))

# pixel -> paper helpers (plot area is x 163..810, y 30..560)
def px_x(p):
    return (p - 163) / 647.0

def px_y(p):
    return (560 - p) / 530.0

def label(text, x, y, xanchor="left", size=10.5, color="white", angle=0):
    return dict(text=text, x=px_x(x), y=px_y(y), xref="paper", yref="paper",
                xanchor=xanchor, yanchor="middle", showarrow=False, textangle=angle,
                font=dict(size=size, color=color))

# hand-made two column legend like the original
shapes = []
annos = []
left_col = [(names[k], colors[k]) for k in range(0, 31, 2)]
right_col = [(names[k], colors[k]) for k in range(1, 31, 2)] + [("Ens. mean", "white")]
for col, (lx0, lx1, tx) in [(left_col, (1, 8, 7)), (right_col, (53, 62, 62))]:
    for j, (lab, c) in enumerate(col):
        yy = 40 + 15 * j
        shapes.append(dict(type="line", xref="paper", yref="paper",
                           x0=px_x(lx0), x1=px_x(lx1), y0=px_y(yy), y1=px_y(yy),
                           line=dict(color=c, width=2)))
        annos.append(label(lab, tx, yy))
shapes.append(dict(type="line", xref="paper", yref="paper", x0=px_x(1), x1=px_x(8),
                   y0=px_y(305), y1=px_y(305), line=dict(color=oper_color, width=2)))
annos.append(label("Oper", 7, 305))
shapes.append(dict(type="line", xref="paper", yref="paper", x0=px_x(53), x1=px_x(62),
                   y0=px_y(293), y1=px_y(293), line=dict(color=clim_color, width=2)))
annos.append(label("1981-2010", 62, 293))
annos.append(label("mean", 62, 304))

# axis titles, title and footer
annos.append(label("850 hPa Temp. (°C)", 132, 295, xanchor="center", angle=-90))
annos.append(label("Precipitation (mm)", 840, 295, xanchor="center", angle=-90))
annos.append(label("Date (UTC)", 486, 589, xanchor="center"))
annos.append(label("<b>Carnate  (IT)  850 hPa Temp. & Precipitation | Fri, 04Oct2019 00Z</b>",
                   435, 12, xanchor="center", size=16))
annos.append(label("GFS Ensemble, 45.5N, 9.5E", 120, 599, size=16, color="#e6e6e6"))
annos.append(label("Wetterzentrale.de", 795, 599, xanchor="right", size=16, color="#e6e6e6"))

grid = "#3f3f3f"
fig.update_layout(
    width=850, height=620,
    margin=dict(l=163, r=40, t=30, b=60),
    paper_bgcolor="black", plot_bgcolor="black",
    font=dict(family="DejaVu Sans", color="white", size=10.5),
    showlegend=False,
    shapes=shapes, annotations=annos,
    xaxis=dict(type="date", range=["2019-10-13 00:00", "2019-10-29 00:00"],
               tick0="2019-10-13", dtick=2 * 86400000, tickformat="%d%b %Hz",
               showgrid=True, gridcolor=grid, griddash="4px,3px",
               minor=dict(dtick=86400000, showgrid=True, gridcolor=grid, griddash="4px,3px"),
               showline=True, linecolor="white", linewidth=1, mirror=True,
               ticks="", zeroline=False, tickfont=dict(size=10.5), ticklabelstandoff=3),
    yaxis=dict(range=[-20, 25], dtick=5, showgrid=True, gridcolor=grid, griddash="4px,3px",
               showline=True, linecolor="white", linewidth=1, mirror=True,
               ticks="", zeroline=False, tickfont=dict(size=10.5), ticklabelstandoff=5),
    yaxis2=dict(overlaying="y", side="right", range=[0, 40], dtick=10, showgrid=False,
                zeroline=False, showline=True, linecolor="white", linewidth=1,
                ticks="inside", ticklen=5, tickcolor="white",
                minor=dict(dtick=1, ticks="inside", ticklen=5, tickcolor="white"),
                tickfont=dict(size=10.5)),
)

fig.write_html("out.html", config={"displayModeBar": False},
               post_script="document.body.style.margin='0';")
